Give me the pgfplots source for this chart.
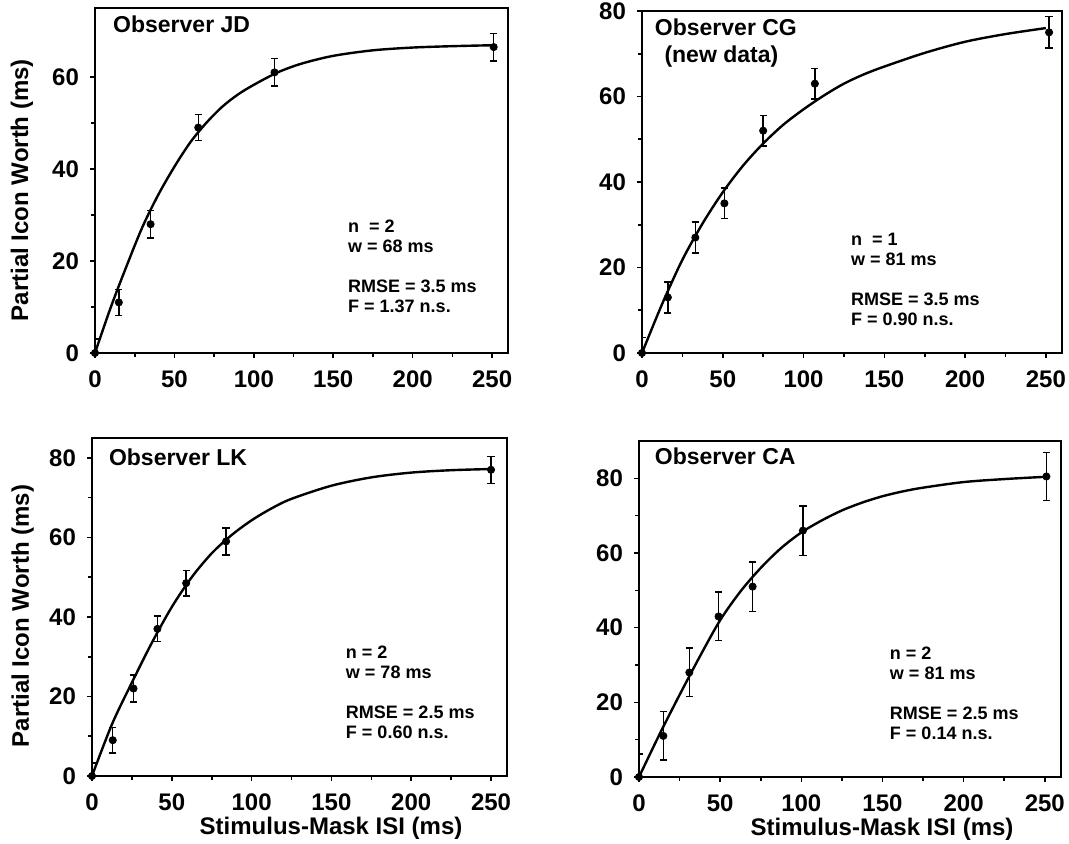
\documentclass[border=0pt]{standalone}
\usepackage{fontspec}
\setmainfont{Liberation Sans}
\usepackage{pgfplots}
\pgfplotsset{compat=1.18}
\pgfplotsset{
  panel/.style={
    scale only axis, anchor=south west,
    xmin=0, xmax=260, ymin=0,
    xtick={0,50,...,250}, minor x tick num=1, minor y tick num=1,
    tick align=outside, tick pos=left,
    major tick length=2.5pt, minor tick length=2pt,
    axis line style={line width=1pt},
    every tick/.style={black, line width=0.8pt},
    tick label style={font=\fontsize{12}{14}\selectfont\bfseries},
    xticklabel style={yshift=-3pt},
    yticklabel style={xshift=-2pt},
    /pgf/number format/assume math mode=true,
    label style={font=\fontsize{12}{14}\selectfont\bfseries},
  },
  curve/.style={black, line width=1.2pt, smooth, no marks},
  pts/.style={only marks, black, mark=*, mark size=1.8pt,
    error bars/.cd, y dir=both, y explicit,
    error bar style={line width=0.7pt, black},
    error mark options={rotate=90, mark size=1.8pt, line width=0.7pt, black}},
}
\newcommand{\ttl}{\fontsize{11.5}{13}\selectfont\bfseries}
\newcommand{\ann}{\fontsize{9}{10}\selectfont\bfseries}
\begin{document}
\begin{tikzpicture}
\useasboundingbox (0,0) rectangle (534.5pt,422pt);
% ---------------- JD ----------------
\begin{axis}[panel, at={(47.5pt,245.5pt)}, width=206.5pt, height=172.5pt,
  ymax=75, ytick={0,20,40,60},
  ylabel={Partial Icon Worth (ms)},
  ylabel style={at={(axis description cs:-0.177,0.472)}, anchor=center}]
\addplot[curve] coordinates {(0,0) (10,10) (20,19) (30,27.5) (40,34.5) (50,40.5) (60,45.8) (70,50) (80,53.5) (90,56.2) (100,58.3) (115,61) (130,62.9) (150,64.6) (175,65.8) (200,66.4) (225,66.7) (250,66.9)};
\addplot[pts] coordinates {(0,0) +- (0,3) (15,11) +- (0,2.8) (35,28) +- (0,3) (65,49) +- (0,2.8) (113,61) +- (0,3) (251,66.5) +- (0,3)};
\node[anchor=base west, font=\ttl] at (axis description cs:0.027,0.928) {Observer JD};
\node[anchor=base west, font=\ann, align=left] at (axis description cs:0.596,0.116) {n~~= 2\\w = 68 ms\\[10pt]RMSE = 3.5 ms\\F = 1.37 n.s.};
\end{axis}
% ---------------- CG ----------------
\begin{axis}[panel, at={(321pt,245.5pt)}, width=210pt, height=171pt,
  ymax=80, ytick={0,20,40,60,80}]
\addplot[curve] coordinates {(0,0) (12.5,11.5) (25,21.8) (37.5,30.3) (50,37.6) (62.5,43.8) (75,49) (87.5,53.4) (100,57) (112.5,60.2) (125,63) (137.5,65.2) (150,67) (175,70.2) (200,72.8) (225,74.6) (250,76)};
\addplot[pts] coordinates {(0,0) +- (0,3.6) (16,13) +- (0,3.6) (33,27) +- (0,3.6) (51,35) +- (0,3.6) (75,52) +- (0,3.6) (107,63) +- (0,3.6) (252,75) +- (0,3.7)};
\node[anchor=base west, font=\ttl] at (axis description cs:0.014,0.927) {Observer CG};
\node[anchor=base, font=\ttl] at (axis description cs:0.189,0.848) {(new data)};
\node[anchor=base west, font=\ann, align=left] at (axis description cs:0.481,0.079) {n~~= 1\\w = 81 ms\\[10pt]RMSE = 3.5 ms\\F = 0.90 n.s.};
\end{axis}
% ---------------- LK ----------------
\begin{axis}[panel, at={(46pt,34pt)}, width=207.5pt, height=169pt,
  ymax=85, ytick={0,20,40,60,80},
  ylabel={Partial Icon Worth (ms)},
  ylabel style={at={(axis description cs:-0.167,0.473)}, anchor=center},
  xlabel={Stimulus-Mask ISI (ms)},
  xlabel style={at={(axis description cs:0.576,-0.154)}, anchor=center}]
\addplot[curve] coordinates {(0,0) (12.5,13) (25,23.5) (37.5,33.5) (50,42.5) (62.5,50) (75,56) (87.5,60.6) (100,64.3) (112.5,67.3) (125,69.7) (150,73) (175,75.1) (200,76.3) (225,76.9) (250,77.2)};
\addplot[pts] coordinates {(0,0) +- (0,3.3) (13,9) +- (0,3.2) (26,22) +- (0,3.4) (41,37) +- (0,3.2) (59,48.5) +- (0,3.2) (84,59) +- (0,3.4) (250,77) +- (0,3.4)};
\node[anchor=base west, font=\ttl] at (axis description cs:0.024,0.92) {Observer LK};
\node[anchor=base west, font=\ann, align=left] at (axis description cs:0.595,0.112) {n = 2\\w = 78 ms\\[10pt]RMSE = 2.5 ms\\F = 0.60 n.s.};
\end{axis}
% ---------------- CA ----------------
\begin{axis}[panel, at={(319.5pt,33.5pt)}, width=211pt, height=168pt,
  ymax=90, ytick={0,20,40,60,80},
  xlabel={Stimulus-Mask ISI (ms)},
  xlabel style={at={(axis description cs:0.576,-0.155)}, anchor=center}]
\addplot[curve] coordinates {(0,0) (12.5,11.3) (25,22) (37.5,32.3) (50,42) (62.5,49.7) (75,56) (87.5,61.3) (100,65.5) (112.5,68.7) (125,71.4) (137.5,73.5) (150,75.2) (162.5,76.5) (175,77.5) (200,79) (225,79.8) (250,80.4)};
\addplot[pts] coordinates {(0,0) +- (0,6.2) (15,11) +- (0,6.5) (31,28) +- (0,6.5) (49,43) +- (0,6.5) (70,51) +- (0,6.6) (101,66) +- (0,6.6) (251,80.5) +- (0,6.5)};
\node[anchor=base west, font=\ttl] at (axis description cs:0.021,0.929) {Observer CA};
\node[anchor=base west, font=\ann, align=left] at (axis description cs:0.578,0.113) {n = 2\\w = 81 ms\\[10pt]RMSE = 2.5 ms\\F = 0.14 n.s.};
\end{axis}
\end{tikzpicture}
\end{document}
